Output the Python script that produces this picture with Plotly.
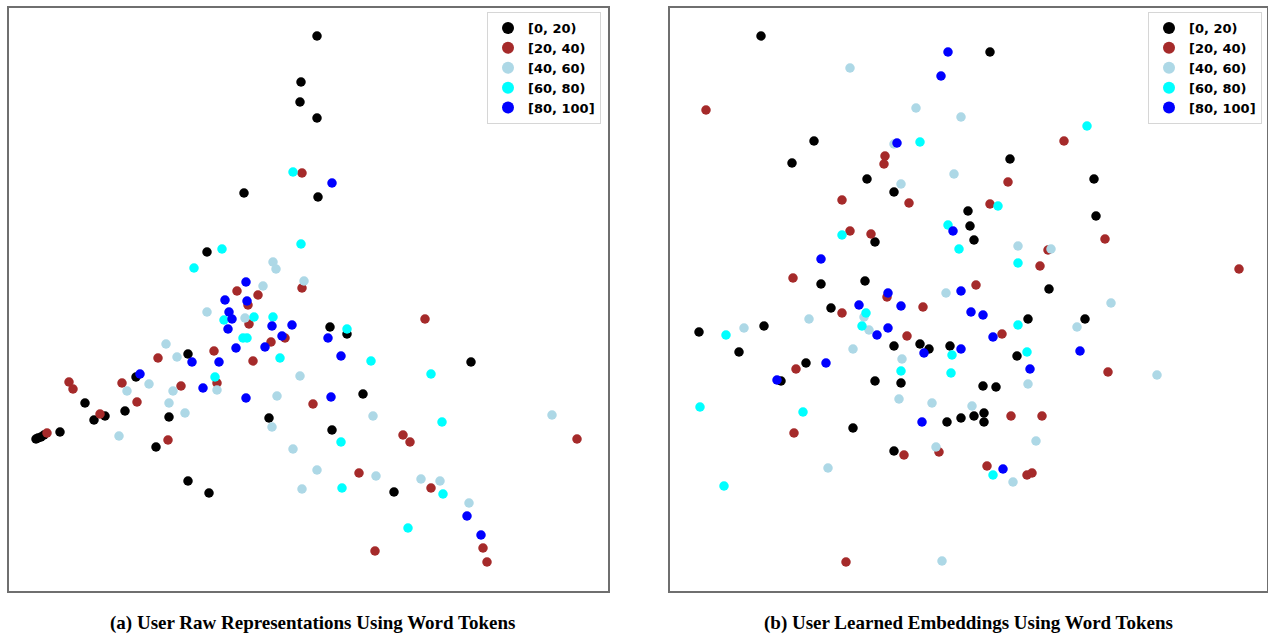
import plotly.graph_objects as go
from plotly.subplots import make_subplots

labels = ["[0, 20)", "[20, 40)", "[40, 60)", "[60, 80)", "[80, 100]"]
colors = ["#000000", "#A52A2A", "#ADD8E6", "#00FFFF", "#0000FF"]
captions = ["(a) User Raw Representations Using Word Tokens",
            "(b) User Learned Embeddings Using Word Tokens"]

# ---- (a) raw representations (2-D projection coordinates) ----
raw_0_20 = [(317,36),(301,82),(300,102),(317,118),(244,193),(318,197),(207,252),(188,354),(136,377),
            (85,403),(105,416),(94,420),(125,411),(169,417),(60,432),(36,439),(38,438),(41,437),(44,435),
            (156,447),(188,481),(209,493),(269,418),(330,327),(347,334),(471,362),(363,394),(332,430),(394,492)]
raw_20_40 = [(302,173),(237,291),(258,295),(302,288),(248,305),(249,324),(214,351),(158,358),(285,338),
             (271,342),(253,361),(69,382),(73,389),(122,383),(217,383),(181,386),(137,402),(100,414),
             (313,404),(47,433),(168,440),(425,319),(403,435),(410,442),(577,439),(359,473),(431,488),
             (375,551),(483,548),(487,562)]
raw_40_60 = [(273,262),(276,269),(263,286),(304,281),(207,312),(245,318),(166,344),(177,357),(149,384),
             (127,391),(173,391),(217,390),(169,403),(185,413),(119,436),(300,376),(277,396),(272,427),
             (293,449),(317,470),(302,489),(373,416),(552,415),(376,476),(421,479),(440,481),(469,503)]
raw_60_80 = [(293,172),(222,249),(194,268),(301,244),(224,320),(254,317),(273,317),(243,338),(247,338),
             (280,358),(215,377),(347,329),(371,361),(431,374),(442,422),(341,442),(342,488),(443,494),(408,528)]
raw_80_100 = [(332,183),(246,282),(225,300),(247,301),(229,312),(232,319),(228,329),(272,326),(292,325),
              (282,336),(236,348),(265,347),(328,338),(341,356),(192,362),(219,362),(140,374),(203,388),
              (246,398),(331,397),(467,516),(481,535)]

# ---- (b) learned embeddings (2-D projection coordinates) ----
emb_0_20 = [(761,36),(990,52),(814,141),(792,163),(867,179),(894,192),(1010,159),(1094,179),(968,211),
            (970,226),(974,240),(875,242),(1096,216),(821,284),(865,281),(1049,289),(831,308),(764,326),
            (699,332),(739,352),(806,363),(781,381),(894,346),(920,344),(929,349),(950,346),(875,381),
            (901,383),(853,428),(947,422),(961,418),(974,416),(984,413),(984,422),(894,451),(983,386),
            (996,387),(1017,356),(1028,319),(1085,319)]
emb_20_40 = [(706,110),(885,156),(884,164),(842,200),(909,203),(850,231),(871,234),(793,278),(887,297),
             (976,285),(1064,141),(1008,182),(990,204),(1105,239),(1048,250),(1040,266),(1239,269),
             (923,307),(842,313),(907,336),(1002,334),(796,369),(794,433),(904,455),(939,452),(1011,416),
             (1042,416),(987,466),(1027,475),(1032,473),(846,562),(1108,372)]
emb_40_60 = [(850,68),(916,108),(961,117),(894,144),(954,174),(901,184),(946,293),(1018,246),(1051,249),
             (1111,303),(809,319),(864,317),(869,330),(853,349),(902,359),(899,399),(932,403),(972,406),
             (936,447),(828,468),(1028,384),(1036,441),(1013,482),(744,328),(942,561),(1077,327),(1157,375)]
emb_60_80 = [(920,142),(842,235),(948,225),(959,249),(1087,126),(998,206),(1018,263),(866,313),(862,326),
             (1018,325),(1027,352),(952,355),(901,371),(951,373),(803,412),(993,475),(726,335),(700,407),(724,486)]
emb_80_100 = [(948,52),(941,76),(897,143),(953,231),(821,259),(888,293),(961,291),(859,305),(901,306),
              (971,312),(983,315),(888,328),(877,335),(924,353),(961,349),(993,337),(826,363),(777,380),
              (1030,369),(922,422),(1003,469),(1080,351)]

raw_groups = [raw_0_20, raw_20_40, raw_40_60, raw_60_80, raw_80_100]
emb_groups = [emb_0_20, emb_20_40, emb_40_60, emb_60_80, emb_80_100]

W, H = 1268, 637
fig = make_subplots(rows=1, cols=2)

for col, groups, leg in [(1, raw_groups, "legend"), (2, emb_groups, "legend2")]:
    for lab, c, pts in zip(labels, colors, groups):
        fig.add_trace(go.Scatter(
            x=[p[0] for p in pts], y=[p[1] for p in pts], mode="markers", name=lab,
            marker=dict(color=c, size=9.5, line=dict(width=0)),
            legend=leg, showlegend=True, hoverinfo="skip"), row=1, col=col)

frame = dict(showticklabels=False, ticks="", showgrid=False, zeroline=False,
             showline=True, mirror=True, linecolor="#6f6f6f", linewidth=1.6)
fig.update_xaxes(**frame)
fig.update_yaxes(**frame)

fig.update_layout(
    width=W, height=H, paper_bgcolor="white", plot_bgcolor="white",
    margin=dict(l=0, r=0, t=0, b=0),
    xaxis=dict(domain=[9/W, 608/W], range=[9, 608]),
    yaxis=dict(domain=[1-591/H, 1-8/H], range=[591, 8]),
    xaxis2=dict(domain=[670/W, 1267/W], range=[670, 1267]),
    yaxis2=dict(domain=[1-591/H, 1-8/H], range=[591, 8]),
)

legend_style = dict(font=dict(family="DejaVu Sans", size=13, color="black", weight=700),
                    bgcolor="white", bordercolor="#d6d6d6", borderwidth=1,
                    itemsizing="constant", xanchor="right", yanchor="top", yref="paper", xref="paper")
fig.update_layout(legend=dict(x=601/W, y=1-12/H, **legend_style),
                  legend2=dict(x=1262/W, y=1-12/H, **legend_style))

for cx, txt in [(312/W, captions[0]), (968/W, captions[1])]:
    fig.add_annotation(x=cx, y=1-623/H, xref="paper", yref="paper", text="<b>"+txt+"</b>",
                       showarrow=False, xanchor="center", yanchor="middle",
                       font=dict(family="Liberation Serif", size=19, color="black"))

fig.write_html("out.html", config={"displayModeBar": False},
               post_script="document.body.style.margin='0';document.body.style.overflow='hidden';")
